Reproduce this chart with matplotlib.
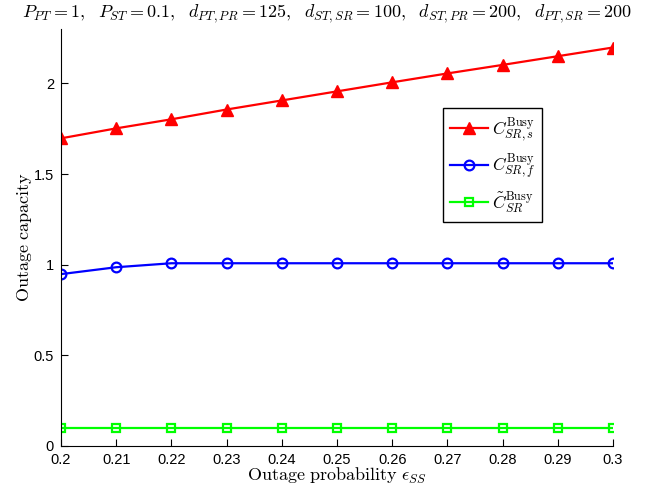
import matplotlib
matplotlib.use("Agg")
import matplotlib.pyplot as plt

plt.rcParams['mathtext.fontset'] = 'cm'
plt.rcParams['font.family'] = ['Liberation Sans', 'DejaVu Sans']

eps = [0.20, 0.21, 0.22, 0.23, 0.24, 0.25, 0.26, 0.27, 0.28, 0.29, 0.30]
c_s = [1.697, 1.752, 1.802, 1.856, 1.906, 1.956, 2.006, 2.055, 2.102, 2.150, 2.198]
c_f = [0.948, 0.986, 1.008, 1.008, 1.008, 1.008, 1.008, 1.008, 1.008, 1.008, 1.008]
c_t = [0.1, 0.1, 0.1, 0.1, 0.1, 0.1, 0.1, 0.1, 0.1, 0.1, 0.1]
xticks = [0.2, 0.21, 0.22, 0.23, 0.24, 0.25, 0.26, 0.27, 0.28, 0.29, 0.3]
xticklabels = ['0.2', '0.21', '0.22', '0.23', '0.24', '0.25', '0.26', '0.27', '0.28', '0.29', '0.3']
yticks = [0, 0.5, 1, 1.5, 2]
yticklabels = ['0', '0.5', '1', '1.5', '2']

fig = plt.figure(figsize=(6.54, 4.9), dpi=100)
ax = fig.add_axes([0.0933, 0.0898, 0.8440, 0.8510])

ax.plot(eps, c_s, color='#ff0000', lw=1.6, marker='^', ms=9,
        label=r'$C_{SR,s}^{\mathrm{Busy}}$')
ax.plot(eps, c_f, color='#0000ff', lw=1.6, marker='o', ms=7, mfc='none', mew=1.6,
        label=r'$C_{SR,f}^{\mathrm{Busy}}$')
ax.plot(eps, c_t, color='#00ff00', lw=1.6, marker='s', ms=6, mfc='none', mew=1.6,
        label=r'$\tilde{C}_{SR}^{\mathrm{Busy}}$')

ax.set_xlim(0.2, 0.3)
ax.set_ylim(0, 2.3)
ax.set_xticks(xticks)
ax.set_xticklabels(xticklabels)
ax.set_yticks(yticks)
ax.set_yticklabels(yticklabels)
ax.tick_params(direction='in', length=5, labelsize=10.5)
ax.tick_params(axis='x', pad=5)
ax.tick_params(axis='y', pad=5)
ax.spines['top'].set_visible(False)
ax.spines['right'].set_visible(False)

ax.set_xlabel(r'$\mathrm{Outage\ probability}\ \epsilon_{SS}$', fontsize=13, labelpad=-1)
ax.set_ylabel(r'$\mathrm{Outage\ capacity}$', fontsize=13, labelpad=0)

fig.text(0.5, 0.972,
         r'$P_{PT}=1,\ \ P_{ST}=0.1,\ \ d_{PT,PR}=125,\ \ d_{ST,SR}=100,\ \ d_{ST,PR}=200,\ \ d_{PT,SR}=200$',
         ha='center', va='center', fontsize=13)

leg = ax.legend(loc='upper left', bbox_to_anchor=(0.692, 0.81), borderaxespad=0,
                fontsize=12.5, frameon=True, fancybox=False, edgecolor='black',
                framealpha=1, handlelength=2.2, labelspacing=0.45, borderpad=0.4,
                handletextpad=0.2)
leg.get_frame().set_linewidth(1.0)

fig.savefig('out.png', dpi=100)
